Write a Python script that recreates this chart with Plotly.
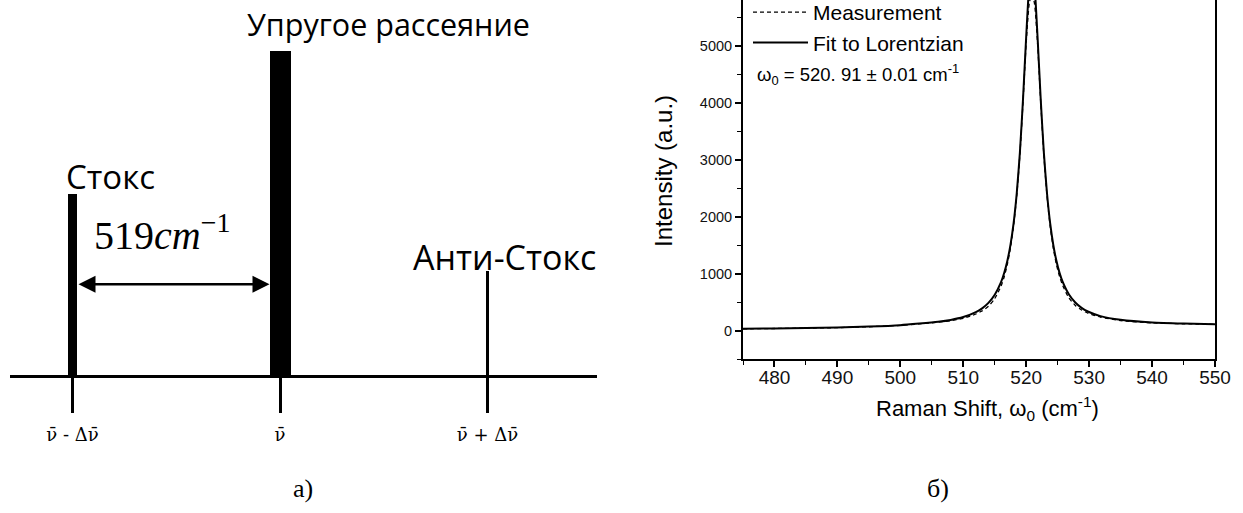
import plotly.graph_objects as go

W, H = 1243, 513

# ---- Left panel: schematic Raman spectrum ----
line_shift = [-519, 0, 519]                 # cm^-1, relative to the laser line
line_intensity = [0.56, 1.0, 0.32]          # relative line intensities
line_tick_text = ["ν̄ - Δν̄", "ν̄", "ν̄ + Δν̄"]
line_names = ["Стокс", "Упругое рассеяние", "Анти-Стокс"]
shift_label = "519<i>cm</i><sup>−1</sup>"

# ---- Right panel: Si Raman peak, measurement and Lorentzian fit ----
shift_cm = [475, 480, 485, 490, 495, 500, 503, 506, 508, 510, 512, 513, 514, 515,
            516, 516.5, 517, 517.5, 518, 518.5, 519, 519.5, 520, 520.5, 520.9,
            521.3, 521.8, 522.3, 522.8, 523.3, 523.8, 524.3, 524.8, 525.3, 525.8,
            526.8, 527.8, 528.8, 529.8, 531.8, 535, 540, 545, 550]
measured = [30, 35, 42, 50, 66, 90, 116, 145, 172, 215, 290, 345, 425, 560,
            780, 940, 1160, 1450, 1840, 2370, 3090, 4020, 5050, 5750, 5900,
            5750, 5050, 4020, 3090, 2370, 1840, 1450, 1160, 950, 790,
            570, 440, 360, 305, 235, 175, 135, 118, 108]
fit = [30, 36, 43, 52, 69, 94, 122, 154, 186, 236, 322, 389, 484, 627,
       849, 1009, 1221, 1503, 1886, 2412, 3129, 4071, 5160, 6085, 6365,
       6085, 5160, 4071, 3130, 2413, 1887, 1505, 1224, 1012, 853,
       632, 492, 398, 334, 253, 187, 140, 121, 110]
x_ticks = [480, 490, 500, 510, 520, 530, 540, 550]
y_ticks = [0, 1000, 2000, 3000, 4000, 5000]
x_title = "Raman Shift, ω<sub>0</sub> (cm<sup>-1</sup>)"
y_title = "Intensity (a.u.)"
omega_text = "ω<sub>0</sub> = 520. 91 ± 0.01 cm<sup>-1</sup>"


def px(x):
    return x / W


def py(y):
    return 1 - y / H


# pixel layout of the schematic axis
base_y = 375                 # baseline
left_px, right_px = 10, 597  # baseline extent
centre_px = 280              # laser line position
px_per_unit = 207.5 / 519
x2_range = [(left_px - centre_px) / px_per_unit, (right_px - centre_px) / px_per_unit]
y2_top = base_y / (base_y - 51)
bar_px = [9, 21, 3]
bar_width = [w / px_per_unit for w in bar_px]

# pixel layout of the spectrum axes
ax_l, ax_r, ax_b = 743, 1215, 359

fig = go.Figure()

fig.add_trace(go.Bar(
    x=line_shift, y=line_intensity, width=bar_width,
    marker=dict(color="black", line=dict(width=0)),
    xaxis="x2", yaxis="y2", showlegend=False, hoverinfo="skip",
))

fig.add_trace(go.Scatter(
    x=shift_cm, y=measured, mode="lines", name="Measurement",
    line=dict(color="black", width=1.3, dash="4px,3px", shape="spline", smoothing=0.6),
))
fig.add_trace(go.Scatter(
    x=shift_cm, y=fit, mode="lines", name="Fit to Lorentzian",
    line=dict(color="black", width=2, shape="spline", smoothing=0.6),
))

sans = "Open Sans"
serif = "Liberation Serif"
arial = "Liberation Sans"

annotations = [
    dict(text=line_names[0], x=px(110), y=py(176), font=dict(family=sans, size=33)),
    dict(text=line_names[1], x=px(388), y=py(24), font=dict(family=sans, size=30.5)),
    dict(text=line_names[2], x=px(504), y=py(257), font=dict(family=sans, size=34)),
    dict(text=shift_label, x=px(162), y=py(232), font=dict(family=serif, size=40)),
    dict(text="а)", x=px(303), y=py(488), font=dict(family=serif, size=26)),
    dict(text="б)", x=px(938), y=py(488), font=dict(family=serif, size=26)),
    dict(text=omega_text, x=px(755), y=py(74), xanchor="left",
         font=dict(family=arial, size=18.5)),
    dict(text=y_title, x=px(664), y=py(171), textangle=-90,
         font=dict(family=arial, size=24)),
    dict(text=x_title, x=px(987), y=py(408), font=dict(family=arial, size=22)),
]
for a in annotations:
    a.setdefault("xanchor", "center")
    a["font"]["color"] = "black"
    a.update(xref="paper", yref="paper", yanchor="middle", showarrow=False)

# double-headed arrow between the Stokes line and the laser line
arrow_y = line_intensity[0] * 0.5
annotations.append(dict(
    x=line_shift[1], y=arrow_y, ax=line_shift[0], ay=arrow_y,
    xref="x2", yref="y2", axref="x2", ayref="y2", text="",
    showarrow=True, arrowhead=2, startarrowhead=2, arrowside="end+start",
    arrowwidth=2.5, arrowsize=1.36, startarrowsize=1.36,
    standoff=bar_px[1] / 2, startstandoff=bar_px[0] / 2, arrowcolor="black",
))

fig.update_layout(
    width=W, height=H,
    margin=dict(l=0, r=0, t=0, b=0, autoexpand=False),
    paper_bgcolor="white", plot_bgcolor="white",
    showlegend=True,
    legend=dict(x=px(748), y=py(-8), xanchor="left", yanchor="top",
                font=dict(family=arial, size=21, color="black"),
                bgcolor="rgba(0,0,0,0)", itemwidth=55, tracegroupgap=0),
    annotations=annotations,
    bargap=0,
    xaxis2=dict(
        domain=[px(left_px), px(right_px)], range=x2_range, anchor="y2",
        automargin=False,
        showline=True, linewidth=3, linecolor="black",
        ticks="outside", ticklen=35, tickwidth=3, tickcolor="black",
        tickmode="array", tickvals=line_shift, ticktext=line_tick_text,
        tickfont=dict(family="DejaVu Serif", size=18, color="black"), ticklabelstandoff=6,
        showgrid=False, zeroline=False, fixedrange=True,
    ),
    yaxis2=dict(
        domain=[py(base_y), 1], range=[0, y2_top], anchor="x2",
        automargin=False, visible=False, fixedrange=True,
    ),
    xaxis=dict(
        domain=[px(ax_l), px(ax_r)], range=[475, 550], anchor="y",
        automargin=False,
        showline=True, linewidth=2, linecolor="black", mirror=False,
        ticks="outside", ticklen=6, tickwidth=1.5, tickcolor="black",
        tickmode="array", tickvals=x_ticks,
        minor=dict(tickmode="linear", tick0=475, dtick=5, ticks="outside",
                   ticklen=4, tickwidth=1.2, tickcolor="black"),
        tickfont=dict(family=arial, size=19, color="#111"), ticklabelstandoff=-6,
        showgrid=False, zeroline=False,
    ),
    yaxis=dict(
        domain=[py(ax_b), 1], range=[-500, 5800], anchor="x",
        automargin=False,
        showline=True, linewidth=2, linecolor="black", mirror=True,
        ticks="outside", ticklen=6, tickwidth=1.5, tickcolor="black",
        tickmode="array", tickvals=y_ticks,
        minor=dict(tickmode="linear", tick0=0, dtick=500, ticks="outside",
                   ticklen=4, tickwidth=1.2, tickcolor="black"),
        tickfont=dict(family=arial, size=14.5, color="#111"),
        showgrid=False, zeroline=False,
    ),
)

fig.write_html("out.html")
